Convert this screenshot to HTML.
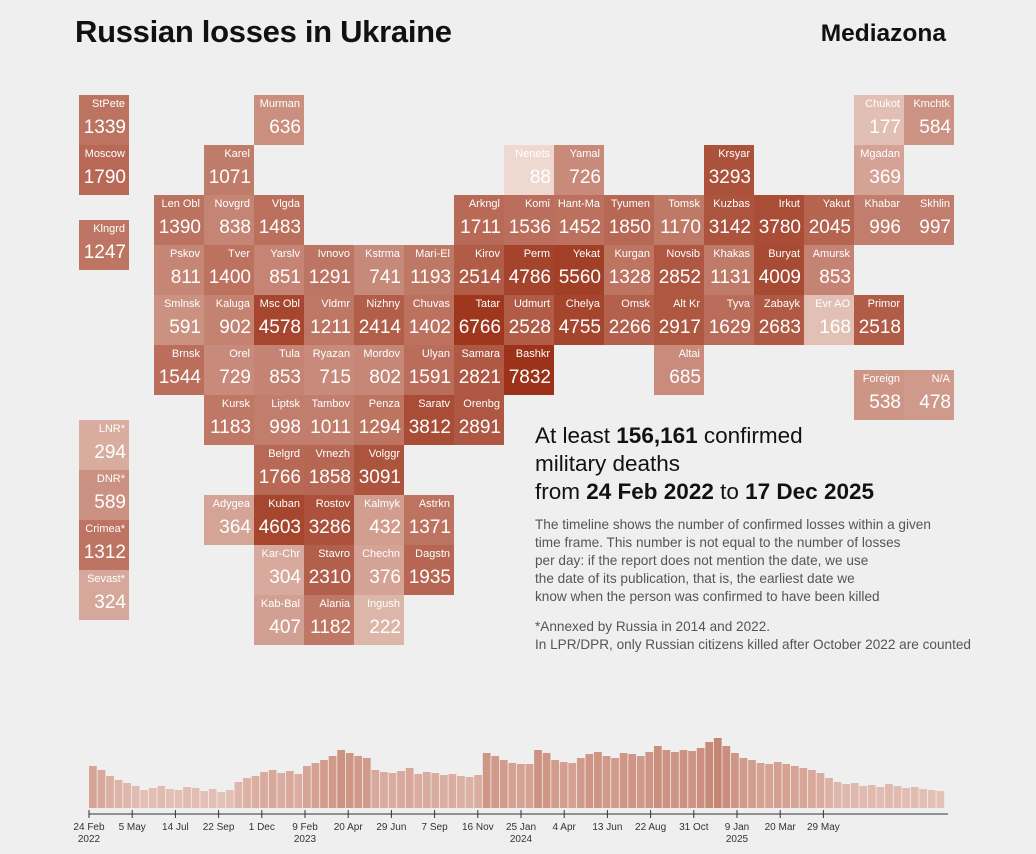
<!DOCTYPE html>
<html><head><meta charset="utf-8">
<style>
body{margin:0;background:#efefef;font-family:"Liberation Sans",sans-serif;}
#wrap{position:relative;width:1036px;height:854px;overflow:hidden;background:#efefef;}
.tile{position:absolute;width:50px;height:50px;box-sizing:border-box;color:#fff;}
.tile .lb{position:absolute;right:4px;top:3px;font-size:11px;white-space:nowrap;}
.tile .nm{position:absolute;right:3px;top:22px;font-size:19px;white-space:nowrap;}
#title{position:absolute;left:75px;top:14px;font-size:31px;font-weight:bold;color:#111;letter-spacing:-0.3px}
#brand{position:absolute;right:90px;top:20px;font-size:24.5px;font-weight:bold;color:#111}
#head{position:absolute;left:535px;top:422px;font-size:22.5px;line-height:28px;color:#111}
#desc{position:absolute;left:535px;top:516px;font-size:13.6px;line-height:18px;color:#555}
#note{position:absolute;left:535px;top:618px;font-size:13.6px;line-height:18px;color:#555}
</style></head><body>
<div id="wrap">
<div id="title">Russian losses in Ukraine</div>
<div id="brand">Mediazona</div>
<div id="head">At least <b>156,161</b> confirmed<br>military deaths<br>from <b>24 Feb 2022</b> to <b>17 Dec 2025</b></div>
<div id="desc">The timeline shows the number of confirmed losses within a given<br>time frame. This number is not equal to the number of losses<br>per day: if the report does not mention the date, we use<br>the date of its publication, that is, the earliest date we<br>know when the person was confirmed to have been killed</div>
<div id="note">*Annexed by Russia in 2014 and 2022.<br>In LPR/DPR, only Russian citizens killed after October 2022 are counted</div>
<div id="tiles"></div>
<svg id="tl" width="1036" height="854" style="position:absolute;left:0;top:0"></svg>
</div>
<script>
const regionNames=["StPete","Moscow","Klngrd","LNR*","DNR*","Crimea*","Sevast*","Murman","Chukot","Kmchtk","Karel","Nenets","Yamal","Krsyar","Mgadan","Len Obl","Novgrd","Vlgda","Arkngl","Komi","Hant-Ma","Tyumen","Tomsk","Kuzbas","Irkut","Yakut","Khabar","Skhlin","Pskov","Tver","Yarslv","Ivnovo","Kstrma","Mari-El","Kirov","Perm","Yekat","Kurgan","Novsib","Khakas","Buryat","Amursk","Smlnsk","Kaluga","Msc Obl","Vldmr","Nizhny","Chuvas","Tatar","Udmurt","Chelya","Omsk","Alt Kr","Tyva","Zabayk","Evr AO","Primor","Brnsk","Orel","Tula","Ryazan","Mordov","Ulyan","Samara","Bashkr","Altai","Kursk","Liptsk","Tambov","Penza","Saratv","Orenbg","Belgrd","Vrnezh","Volggr","Adygea","Kuban","Rostov","Kalmyk","Astrkn","Kar-Chr","Stavro","Chechn","Dagstn","Kab-Bal","Alania","Ingush","Foreign","N/A"];
const regionValues=[1339,1790,1247,294,589,1312,324,636,177,584,1071,88,726,3293,369,1390,838,1483,1711,1536,1452,1850,1170,3142,3780,2045,996,997,811,1400,851,1291,741,1193,2514,4786,5560,1328,2852,1131,4009,853,591,902,4578,1211,2414,1402,6766,2528,4755,2266,2917,1629,2683,168,2518,1544,729,853,715,802,1591,2821,7832,685,1183,998,1011,1294,3812,2891,1766,1858,3091,364,4603,3286,432,1371,304,2310,376,1935,407,1182,222,538,478];
const regionCols=[-1.5,-1.5,-1.5,-1.5,-1.5,-1.5,-1.5,2,14,15,1,7,8,11,14,0,1,2,6,7,8,9,10,11,12,13,14,15,0,1,2,3,4,5,6,7,8,9,10,11,12,13,0,1,2,3,4,5,6,7,8,9,10,11,12,13,14,0,1,2,3,4,5,6,7,10,1,2,3,4,5,6,2,3,4,1,2,3,4,5,2,3,4,5,2,3,4,14,15];
const regionRows=[0,1,2.5,6.5,7.5,8.5,9.5,0,0,0,1,1,1,1,1,2,2,2,2,2,2,2,2,2,2,2,2,2,3,3,3,3,3,3,3,3,3,3,3,3,3,3,4,4,4,4,4,4,4,4,4,4,4,4,4,4,4,5,5,5,5,5,5,5,5,5,6,6,6,6,6,6,7,7,7,8,8,8,8,8,9,9,9,9,10,10,10,5.5,5.5];
function colorFor(v){
  let t=(Math.log(v)-Math.log(80))/(Math.log(7832)-Math.log(80));
  t=Math.max(0,Math.min(1,t));
  const a=[240,220,212],b=[156,50,25];
  return 'rgb('+a.map((c,i)=>Math.round(c+(b[i]-c)*t)).join(',')+')';
}
const tilesEl=document.getElementById('tiles');
regionNames.forEach((n,i)=>{
  const d=document.createElement('div');
  d.className='tile';
  
  
  d.style.left=(154+50*regionCols[i])+'px';
  d.style.top=(95+50*regionRows[i])+'px';
  d.style.background=colorFor(regionValues[i]);
  d.innerHTML='<span class="lb">'+n+'</span><span class="nm">'+regionValues[i]+'</span>';
  tilesEl.appendChild(d);
});

const binValues=[42,38,32,28,25,22,18,20,22,19,18,21,20,17,19,16,18,26,30,32,36,38,35,37,34,42,45,48,52,58,55,52,50,38,36,35,37,40,34,36,35,33,34,32,31,33,55,52,48,45,44,44,58,55,48,46,45,50,54,56,52,50,55,54,52,56,62,58,56,58,57,60,66,70,62,55,50,48,45,44,46,44,42,40,38,35,30,26,24,25,22,23,21,24,22,20,21,19,18,17];
const tickLabels=["24 Feb","5 May","14 Jul","22 Sep","1 Dec","9 Feb","20 Apr","29 Jun","7 Sep","16 Nov","25 Jan","4 Apr","13 Jun","22 Aug","31 Oct","9 Jan","20 Mar","29 May"];
const tickYears=["2022","","","","","2023","","","","","2024","","","","","2025","",""];
const NS='http://www.w3.org/2000/svg';
const svg=document.getElementById('tl');
const x0=89,x1=945,base=808;
const bw=(x1-x0)/binValues.length;
const yS=v=>v*1.0;
const xTick=i=>89+i*43.2;
binValues.forEach((v,i)=>{
  const r=document.createElementNS(NS,'rect');
  
  
  r.setAttribute('x',x0+i*bw);
  r.setAttribute('width',bw-0.8);
  r.setAttribute('y',base-yS(v));
  r.setAttribute('height',yS(v));
  const t=Math.min(1,v/70);
  r.setAttribute('fill','rgb('+Math.round(238-40*t)+','+Math.round(212-80*t)+','+Math.round(204-90*t)+')');
  svg.appendChild(r);
});
const ax=document.createElementNS(NS,'line');


ax.setAttribute('x1',89);ax.setAttribute('x2',948);ax.setAttribute('y1',814);ax.setAttribute('y2',814);
ax.setAttribute('stroke','#333');
svg.appendChild(ax);
tickLabels.forEach((l,i)=>{
  const x=xTick(i);
  const tk=document.createElementNS(NS,'line');
  
  
  tk.setAttribute('x1',x);tk.setAttribute('x2',x);tk.setAttribute('y1',810);tk.setAttribute('y2',818);
  tk.setAttribute('stroke','#333');
  svg.appendChild(tk);
  const tx=document.createElementNS(NS,'text');
  
  
  tx.setAttribute('x',x);tx.setAttribute('y',830);
  tx.setAttribute('text-anchor','middle');tx.setAttribute('font-size','10');tx.setAttribute('fill','#333');
  tx.textContent=l;
  svg.appendChild(tx);
  if(tickYears[i]){
    const ty=document.createElementNS(NS,'text');
    
    
    ty.setAttribute('x',x);ty.setAttribute('y',842);
    ty.setAttribute('text-anchor','middle');ty.setAttribute('font-size','10');ty.setAttribute('fill','#333');
    ty.textContent=tickYears[i];
    svg.appendChild(ty);
  }
});
</script>
</body></html>
